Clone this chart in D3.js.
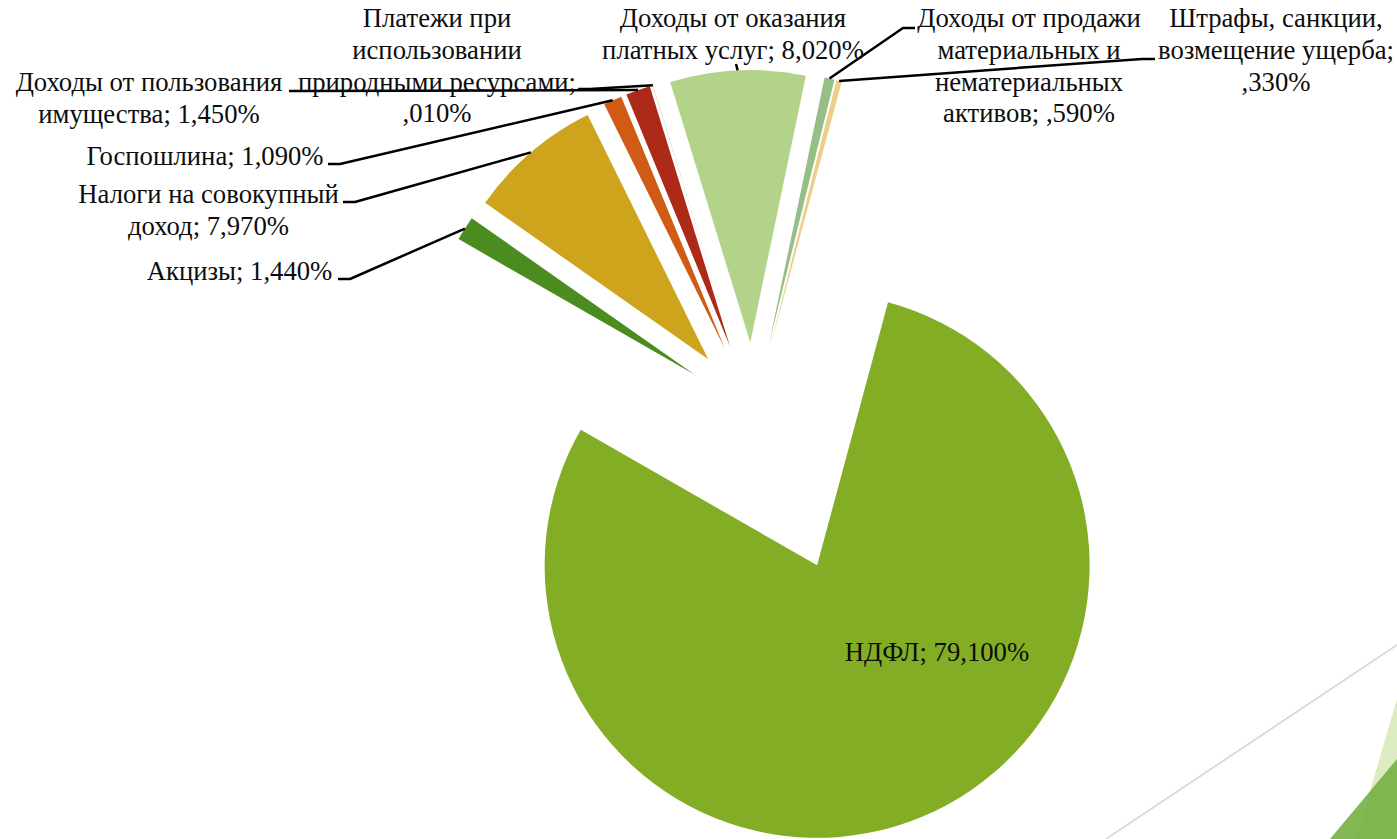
<!DOCTYPE html>
<html>
<head>
<meta charset="utf-8">
<script src="https://cdn.jsdelivr.net/npm/d3@7"></script>
<style>
  html, body { margin: 0; padding: 0; background: #ffffff; }
  svg { display: block; }
</style>
</head>
<body>
<svg id="chart" width="1397" height="839"></svg>
<script>
// ---------------- DATA ----------------
const categories = [
  "НДФЛ",
  "Акцизы",
  "Налоги на совокупный доход",
  "Госпошлина",
  "Доходы от пользования имущества",
  "Платежи при использовании природными ресурсами",
  "Доходы от оказания платных услуг",
  "Доходы от продажи материальных и нематериальных активов",
  "Штрафы, санкции, возмещение ущерба"
];
const values = [79.1, 1.44, 7.97, 1.09, 1.45, 0.01, 8.02, 0.59, 0.33];

// ---------------- STYLE / LAYOUT ----------------
const colors = ["#83AD24", "#4A8C1F", "#CDA41C", "#CF5B15", "#AD2A19", "#8F8454", "#B3D38B", "#95BF87", "#EDCE89"];
const explode = [166, 69.5, 69.5, 69.5, 69.5, 69.5, 69.5, 69.5, 69.5];
const wordsPerLine = [[2], [2], [3, 2], [2], [3, 2], [2, 1, 2, 1], [3, 3], [3, 2, 1, 2], [2, 2, 1]];
const labelPos = [
  [937, 661], [239.5, 280], [208.5, 203], [205, 165], [149, 91],
  [437, 27], [733, 27], [1029, 27], [1276, 27]
];
const leaderStart = [
  null,
  [[338, 279], [350, 279]],
  [[343, 202], [355, 202]],
  [[328, 164], [340, 164]],
  [[289, 91], [301, 91]],
  [[578, 89], [590, 89]],
  [[736, 64]],
  [[915, 28], [903, 28]],
  [[1155, 59], [1142, 59]]
];
const center = [753.5, 412];
const radius = 272.5;
const startDeg = 15.09;
const fontSize = 26.7;
const lineH = 31.8;

// ---------------- DRAW ----------------
const svg = d3.select("#chart");

// slide decorations (theme)
svg.append("line")
  .attr("x1", 1106).attr("y1", 839).attr("x2", 1397).attr("y2", 645)
  .attr("stroke", "#d9d9d9").attr("stroke-width", 1.8);
svg.append("polygon")
  .attr("points", "1397,699 1356,839 1397,839")
  .attr("fill", "#DDEBC3");
svg.append("polygon")
  .attr("points", "1397,759 1330,839 1397,839")
  .attr("fill", "#76B043").attr("fill-opacity", 0.9);

const pie = d3.pie().sort(null).value(d => d)
  .startAngle(startDeg * Math.PI / 180)
  .endAngle(startDeg * Math.PI / 180 + 2 * Math.PI);
const arcs = pie(values);
const arc = d3.arc().innerRadius(0).outerRadius(radius);

const g = svg.append("g").attr("transform", `translate(${center[0]},${center[1]})`);

function dirOf(d) {
  const a = (d.startAngle + d.endAngle) / 2;
  return [Math.sin(a), -Math.cos(a)];
}

g.selectAll("path.slice")
  .data(arcs)
  .join("path")
  .attr("class", "slice")
  .attr("d", arc)
  .attr("fill", (d, i) => colors[i])
  .attr("transform", (d, i) => {
    const u = dirOf(d);
    return `translate(${u[0] * explode[i]},${u[1] * explode[i]})`;
  });

// label text formatting (Russian style, leading zero dropped)
function fmt(v) {
  let s = v.toFixed(3).replace(".", ",");
  if (s.startsWith("0,")) s = s.slice(1);
  return s + "%";
}

// leader lines
const line = d3.line();
arcs.forEach((d, i) => {
  if (!leaderStart[i]) return;
  const u = dirOf(d);
  const dist = explode[i] + radius;
  const end = [center[0] + u[0] * dist, center[1] + u[1] * dist];
  const pts = leaderStart[i].concat([end]);
  svg.append("path")
    .attr("d", line(pts))
    .attr("fill", "none")
    .attr("stroke", "#000")
    .attr("stroke-width", 2.5)
    .attr("stroke-linejoin", "round");
});

// labels
arcs.forEach((d, i) => {
  const words = (categories[i] + "; " + fmt(values[i])).split(" ");
  const lines = [];
  let k = 0;
  wordsPerLine[i].forEach(n => { lines.push(words.slice(k, k + n).join(" ")); k += n; });
  if (k < words.length) lines[lines.length - 1] += " " + words.slice(k).join(" ");
  const t = svg.append("text")
    .attr("x", labelPos[i][0])
    .attr("y", labelPos[i][1])
    .attr("text-anchor", "middle")
    .attr("font-family", "'Liberation Serif', 'Times New Roman', serif")
    .attr("font-size", fontSize)
    .attr("fill", "#0d0d0d");
  lines.forEach((ln, j) => {
    t.append("tspan").attr("x", labelPos[i][0]).attr("y", labelPos[i][1] + j * lineH).text(ln);
  });
});
</script>
</body>
</html>
